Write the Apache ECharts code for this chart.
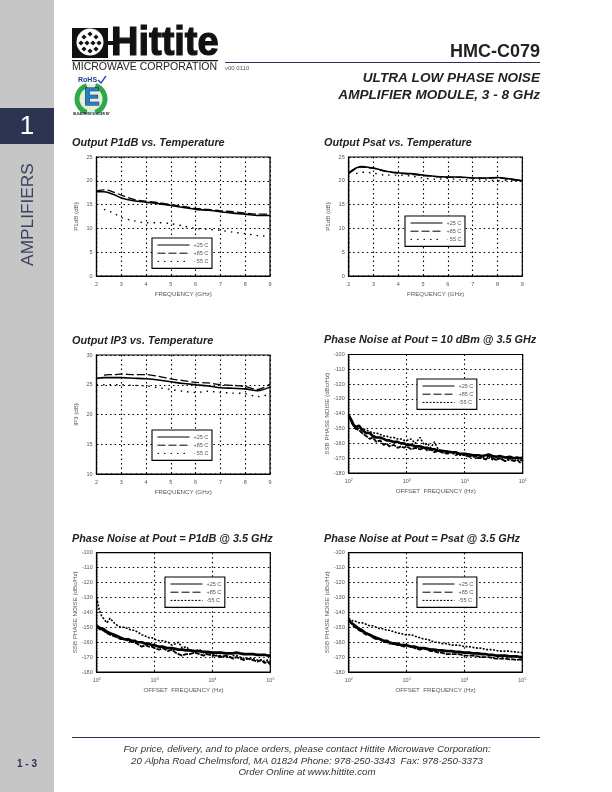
<!DOCTYPE html>
<html><head><meta charset="utf-8">
<style>html,body{margin:0;padding:0;background:#fff}#c{width:612px;height:792px}</style>
<script src="https://cdn.jsdelivr.net/npm/echarts@6/dist/echarts.min.js"></script>
</head><body><div id="c"></div>
<script>
const freqGHz = [2,2.3,2.5,2.7,3,3.5,4,4.5,5,5.5,6,6.5,7,7.5,8,8.5,9];
const p1db25 = [17.7,17.7,17.5,17.1,16.4,15.8,15.5,15.2,14.8,14.4,14.0,13.8,13.5,13.2,13.0,12.7,12.7];
const p1db85 = [17.9,18.1,18.0,17.6,17.0,16.1,15.7,15.4,15.0,14.6,14.2,14.0,13.7,13.5,13.2,13.0,13.0];
const p1dbM55 = [null,14.0,13.6,13.2,12.3,11.6,11.2,11.2,11.0,10.5,10.0,9.8,9.6,9.2,8.9,8.5,8.3];
const psat25 = [21.7,22.7,23.0,22.9,22.7,22.0,21.7,21.5,21.2,20.9,20.8,20.8,20.6,20.6,20.7,20.4,20.0];
const psat85 = [21.5,22.6,22.9,22.8,22.6,22.0,21.6,21.4,21.1,20.9,20.7,20.7,20.6,20.5,20.6,20.3,20.0];
const psatM55 = [null,21.5,21.8,21.8,21.6,21.2,21.2,21.0,20.6,20.3,20.5,20.2,20.2,20.2,20.0,20.2,20.0];
const ip325 = [26.1,26.2,26.2,26.2,26.2,26.1,26.0,25.8,25.5,25.2,25.0,24.8,24.5,24.4,24.3,24.0,24.6];
const ip385 = [null,26.6,26.7,26.7,26.8,26.7,26.7,26.4,26.0,25.7,25.4,25.3,25.0,24.9,24.7,24.2,25.1];
const ip3M55 = [25.0,25.0,25.0,25.0,25.0,24.9,24.8,24.5,24.2,23.9,23.7,23.9,23.7,23.6,23.5,23.0,23.4];
const offsetHz = [100,110,120,130,150,170,200,230,260,300,350,400,450,500,600,700,800,900,1000,1200,1400,1700,2000,2300,2600,3000,3500,4000,5000,6000,7000,8000,10000,12000,14000,17000,20000,23000,26000,30000,35000,40000,50000,60000,70000,80000,90000,100000];
const pn10p25 = [-141,-144,-147,-149,-148,-151,-153,-153,-155,-156,-156,-157,-158,-158,-159,-159,-160,-160,-161,-161,-162,-162,-163,-163,-164,-164,-165,-165,-165.5,-166,-166,-167,-167,-167.5,-168,-168,-168.5,-168,-167.5,-168.5,-169,-168.5,-169.5,-169,-170,-169.5,-170,-169.5];
const pn10p85 = [-142,-145,-148,-150,-151,-153,-155,-157,-156,-159,-158,-161,-160,-162,-161,-163,-162,-163,-162,-164,-163,-164,-163,-165,-164,-166,-165,-166,-167,-166,-168,-167,-168,-169,-168,-170,-169,-171,-168,-170,-171,-170,-172,-170,-172,-171,-173,-171];
const pn10m55 = [-142,-145,-148,-149,-150,-150,-151,-152,-153,-153,-154,-155,-155,-156,-156,-157,-157,-158,-158,-157,-160,-156,-161,-160,-163,-159,-164,-165,-166,-166,-167,-168,-168,-169,-169,-170,-170,-171,-169,-171,-171,-170,-172,-171,-172,-171,-172,-170];
const pnP1p25 = [-149,-150,-151,-151,-153,-154,-155,-156,-157,-158,-158,-159,-159,-160,-160,-161,-161,-162,-162,-163,-163,-164,-164,-164.5,-165,-165,-165.5,-165.5,-166,-166,-166.5,-166.5,-167,-167,-167,-167.5,-167.5,-167.5,-167,-167.5,-168,-168,-168,-168.5,-168.5,-168.5,-169,-169];
const pnP1p85 = [-150,-151,-152,-152,-154,-155,-156,-157,-158,-158,-159,-160,-160,-161,-163,-162,-163,-163,-164,-165,-164,-166,-165,-167,-168,-169,-168,-168,-167,-168,-169,-168,-169,-169,-170,-169,-170,-171,-170,-171,-172,-171,-172,-173,-172,-174,-173,-175];
const pnP1m55 = [-130,-138,-142,-144,-147,-144,-147,-149,-150,-150,-151,-152,-152,-153,-155,-156,-157,-157,-158,-159,-159,-160,-162,-161,-160,-164,-163,-165,-166,-165,-167,-168,-168,-169,-169,-170,-170,-169,-169,-170,-171,-171,-171,-172,-172,-173,-172,-173];
const pnPsp25 = [-145,-147,-148,-149,-151,-152,-154,-155,-156,-157,-158,-159,-159,-160,-161,-161,-162,-162,-162,-163,-163,-164,-164,-164.5,-165,-165,-165.5,-165.5,-166,-166,-166.5,-166.5,-167,-167,-167.5,-167.5,-168,-168,-168.5,-168.5,-169,-169,-169,-169.5,-169.5,-169.5,-170,-170];
const pnPsp85 = [-146,-147,-149,-150,-152,-153,-155,-155,-157,-158,-158,-160,-160,-161,-161,-162,-162,-163,-162,-163,-164,-165,-164,-165,-166,-166,-167,-167,-168,-168,-168,-168,-169,-169,-169,-169.5,-170,-170,-170,-170.5,-171,-171,-171,-171.5,-171.5,-172,-171.5,-172];
const pnPsm55 = [-144,-145,-146,-146,-147,-147,-148,-149,-149,-150,-151,-151,-152,-152,-153,-154,-154,-155,-155,-155,-156,-157,-158,-158,-159,-160,-160,-161,-161,-162,-162,-162,-163,-163,-163.5,-164,-164,-165,-165,-165,-165.5,-166,-166,-166,-166.5,-166.5,-167,-167];

const namesTemp = ['+25 C','+85 C','- 55 C'];
const namesPN = ['+25 C','+85 C','-55 C'];
const charts = [
 {title:'Output P1dB vs. Temperature',tx:72,ty:137,g:[96.5,157,173.5,119],x:freqGHz,y:[p1db25,p1db85,p1dbM55],names:namesTemp,ymin:0,ymax:25,yint:5,yname:'P1dB (dB)',xname:'FREQUENCY (GHz)',lg:[152,238],log:false},
 {title:'Output Psat vs. Temperature',tx:324,ty:137,g:[348.7,157,173.6,119],x:freqGHz,y:[psat25,psat85,psatM55],names:namesTemp,ymin:0,ymax:25,yint:5,yname:'P1dB (dB)',xname:'FREQUENCY (GHz)',lg:[405,216],log:false},
 {title:'Output IP3 vs. Temperature',tx:72,ty:335,g:[96.5,355,173.5,119],x:freqGHz,y:[ip325,ip385,ip3M55],names:namesTemp,ymin:10,ymax:30,yint:5,yname:'IP3 (dB)',xname:'FREQUENCY (GHz)',lg:[152,430],log:false},
 {title:'Phase Noise at Pout = 10 dBm @ 3.5 GHz',tx:324,ty:334,g:[348.7,354.5,174,118.5],x:offsetHz,y:[pn10p25,pn10p85,pn10m55],names:namesPN,ymin:-180,ymax:-100,yint:10,yname:'SSB PHASE NOISE (dBc/Hz)',xname:'OFFSET  FREQUENCY (Hz)',lg:[417,379],log:true},
 {title:'Phase Noise at Pout = P1dB @ 3.5 GHz',tx:72,ty:533,g:[96.7,552.7,173.6,119.3],x:offsetHz,y:[pnP1p25,pnP1p85,pnP1m55],names:namesPN,ymin:-180,ymax:-100,yint:10,yname:'SSB PHASE NOISE (dBc/Hz)',xname:'OFFSET  FREQUENCY (Hz)',lg:[165,577],log:true},
 {title:'Phase Noise at Pout = Psat @ 3.5 GHz',tx:324,ty:533,g:[348.7,552.7,173.6,119.3],x:offsetHz,y:[pnPsp25,pnPsp85,pnPsm55],names:namesPN,ymin:-180,ymax:-100,yint:10,yname:'SSB PHASE NOISE (dBc/Hz)',xname:'OFFSET  FREQUENCY (Hz)',lg:[417,577],log:true}
];

const FF = '"Liberation Sans", Arial, sans-serif';
const labelColor = '#555';
const navy = '#2d3452';
const dots = {show:true,lineStyle:{color:'#000',type:[1.5,3],width:1.1}};
const option = {animation:false,backgroundColor:'#fff',textStyle:{fontFamily:FF},
 title:[],grid:[],xAxis:[],yAxis:[],legend:[],series:[],graphic:{elements:[]}};

charts.forEach((c,i)=>{
 option.title.push({text:c.title,left:c.tx,top:c.ty,padding:0,textStyle:{fontFamily:FF,fontSize:10.85,fontWeight:'bold',fontStyle:'italic',color:'#222'}});
 option.grid.push({left:c.g[0],top:c.g[1],width:c.g[2],height:c.g[3],show:true,borderColor:'#000',borderWidth:1.2,backgroundColor:'#fff',outerBoundsMode:'none',containLabel:false});
 const axisBase = {
  nameLocation:'middle',nameTextStyle:{fontFamily:FF,fontSize:6.2,color:labelColor},
  axisLine:{show:true,onZero:false,lineStyle:{color:'#000',width:1.2}},
  axisTick:{show:true,inside:true,length:2,lineStyle:{color:'#000',width:.8}},
  splitLine:dots
 };
 option.xAxis.push(Object.assign({},axisBase,c.log?{
  type:'log',logBase:10,min:100,max:100000,name:c.xname,nameGap:15,gridIndex:i,
  axisLabel:{margin:5,fontFamily:FF,fontSize:5.5,color:labelColor,formatter:v=>'10{s|'+Math.round(Math.log10(v))+'}',rich:{s:{fontSize:3.5,verticalAlign:'top',color:labelColor,padding:[0,0,3,0]}}},
  minorTick:{show:false}
 }:{
  type:'value',min:2,max:9,interval:1,name:c.xname,nameGap:15,gridIndex:i,
  axisLabel:{margin:5,fontFamily:FF,fontSize:5.5,color:labelColor},
  minorTick:{show:true,splitNumber:5,length:1,lineStyle:{color:'#000',width:.6}}
 }));
 option.yAxis.push(Object.assign({},axisBase,{
  type:'value',min:c.ymin,max:c.ymax,interval:c.yint,name:c.yname,nameGap:c.log?12:17,gridIndex:i,
  axisLabel:{margin:4,fontFamily:FF,fontSize:5.5,color:labelColor},
  minorTick:{show:true,splitNumber:5,length:1,lineStyle:{color:'#000',width:.6}}
 }));
 option.legend.push({left:c.lg[0],top:c.lg[1],orient:'vertical',backgroundColor:'#fff',borderColor:'#000',borderWidth:1.1,borderRadius:0,padding:[4,3.5,4,5],itemGap:2.2,itemWidth:32,itemHeight:6,selectedMode:false,data:c.names,z:10,
  itemStyle:{opacity:0,borderWidth:0},lineStyle:{width:1},
  textStyle:{fontFamily:FF,fontSize:5.5,color:labelColor,padding:[0,0,0,-1]}});
 const styles = [
   {width:c.log?2.6:1.6,type:'solid'},
   {width:c.log?1.8:1.3,type:c.log?[5,1]:[8,3]},
   {width:c.log?1.6:1.4,type:c.log?[2,1.5]:[1.5,5]}
 ];
 [2,1,0].forEach(k=>{
  option.series.push({type:'line',name:c.names[k],xAxisIndex:i,yAxisIndex:i,showSymbol:false,symbol:'none',smooth:c.log?false:0.3,connectNulls:false,
   lineStyle:Object.assign({color:'#000'},styles[k]),itemStyle:{color:'#000'},z:3,
   data:c.x.map((x,j)=>[x,c.y[k][j]])});
 });
});

const G = option.graphic.elements;
const rect=(x,y,w,h,fill)=>G.push({type:'rect',shape:{x,y,width:w,height:h},style:{fill},silent:true});
const txt=(text,x,y,font,fill,align,extra)=>G.push(Object.assign({type:'text',x,y,style:{text,font,fill,textAlign:align||'left',textVerticalAlign:'middle'},silent:true},extra||{}));
// sidebar
rect(0,0,54,792,'#c6c6c6');
rect(0,108,54,36,navy);
txt('1',27,127,'26px '+FF,'#fff','center');
txt('AMPLIFIERS',28,214.5,'17.3px '+FF,'#3a4260','center',{rotation:Math.PI/2});
txt('1 - 3',27,764,'bold 10px '+FF,navy,'center');
// header
rect(225,62,315,1,navy);
txt('HMC-C079',540,52,'bold 18px '+FF,'#222','right');
txt('v00.0110',225,68.5,'6px '+FF,'#555','left');
txt('ULTRA LOW PHASE NOISE',540,78,'italic bold 13.6px '+FF,'#222','right');
txt('AMPLIFIER MODULE, 3 - 8 GHz',540,95,'italic bold 13.6px '+FF,'#222','right');
// logo
rect(72,28,36,30,'#111');
G.push({type:'circle',shape:{cx:90,cy:42,r:13.5},style:{fill:'#fff'},silent:true});
[[84,37],[90,34],[96,37],[81,43],[87,43],[93,43],[99,43],[84,49],[90,51],[96,49]].forEach(p=>{
 G.push({type:'polygon',shape:{points:[[p[0],p[1]-2.6],[p[0]+2.6,p[1]],[p[0],p[1]+2.6],[p[0]-2.6,p[1]]]},style:{fill:'#111'},silent:true});
});
rect(108,41,8,4,'#111');
G.push({type:'text',x:111,y:44,scaleX:0.95,style:{text:'Hittite',font:'bold 40px '+FF,fill:'#111',stroke:'#111',lineWidth:1.2,textAlign:'left',textVerticalAlign:'middle'},silent:true});
rect(72,60,146,1.3,'#111');
G.push({type:'text',x:72,y:67,scaleX:1,style:{text:'MICROWAVE CORPORATION',font:'10.5px '+FF,fill:'#222',textAlign:'left',textVerticalAlign:'middle'},silent:true});
// RoHS badge
G.push({type:'text',x:78,y:80,style:{text:'RoHS',font:'bold 7px '+FF,fill:'#1c3f8f',textAlign:'left',textVerticalAlign:'middle'},silent:true});
G.push({type:'polyline',shape:{points:[[98,80],[101,83],[106,76]]},style:{stroke:'#2b55a5',lineWidth:1.4,fill:null},silent:true});
G.push({type:'circle',shape:{cx:91,cy:99,r:15},style:{fill:'#dff0df'},silent:true});
G.push({type:'arc',shape:{cx:91,cy:99,r:14,startAngle:Math.PI*0.6,endAngle:Math.PI*1.4},style:{stroke:'#2fa84a',lineWidth:5,fill:null},silent:true});
G.push({type:'arc',shape:{cx:91,cy:99,r:14,startAngle:-Math.PI*0.4,endAngle:Math.PI*0.4},style:{stroke:'#2fa84a',lineWidth:5,fill:null},silent:true});
G.push({type:'text',x:92,y:99,style:{text:'E',font:'bold 23px '+FF,fill:'#1f7fd0',stroke:'#111',lineWidth:1,textAlign:'center',textVerticalAlign:'middle'},silent:true});
txt('BLEADFREE SOLDER BY',91.5,114.5,'bold 3px '+FF,'#222','center');
// footer
rect(72,737,468,1,navy);
txt('For price, delivery, and to place orders, please contact Hittite Microwave Corporation:',307,749.5,'italic 9.75px '+FF,'#333','center');
txt('20 Alpha Road Chelmsford, MA 01824 Phone: 978-250-3343  Fax: 978-250-3373',307,761,'italic 9.75px '+FF,'#333','center');
txt('Order Online at www.hittite.com',307,772,'italic 9.75px '+FF,'#333','center');

const chart = echarts.init(document.getElementById('c'),null,{renderer:'canvas',width:612,height:792});
chart.setOption(option);
</script></body></html>
